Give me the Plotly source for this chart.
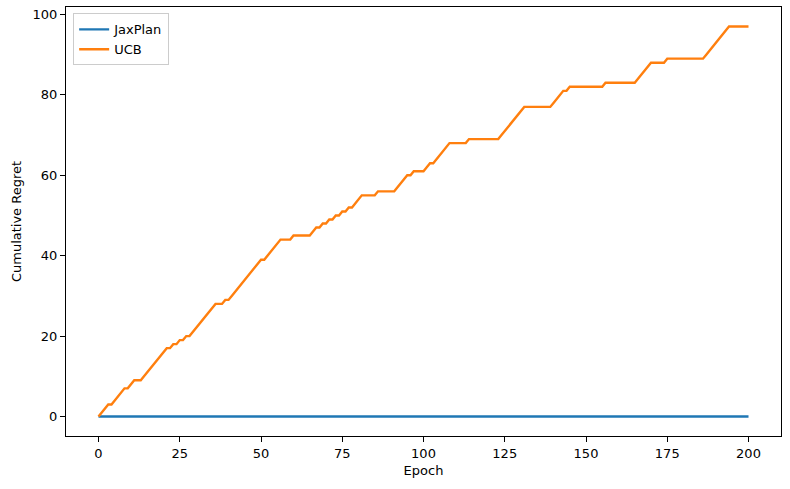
import plotly.graph_objects as go

# Cumulative regret per epoch (epochs 0..200)
ucb_regret = [
    0, 1, 2, 3, 3,
    4, 5, 6, 7, 7,
    8, 9, 9, 9,
    10, 11, 12, 13, 14, 15, 16, 17,
    17, 18, 18, 19, 19, 20, 20,
    21, 22, 23, 24, 25, 26, 27, 28,
    28, 28, 29, 29,
    30, 31, 32, 33, 34, 35, 36, 37, 38, 39,
    39,
    40, 41, 42, 43, 44,
    44, 44, 44,
    45, 45, 45, 45, 45, 45,
    46, 47, 47, 48, 48, 49, 49, 50, 50, 51, 51, 52, 52,
    53, 54, 55,
    55, 55, 55, 55,
    56, 56, 56, 56, 56, 56,
    57, 58, 59, 60,
    60,
    61, 61, 61, 61,
    62, 63, 63,
    64, 65, 66,
    67, 68,
    68, 68, 68, 68, 68,
    69, 69, 69, 69, 69, 69, 69, 69, 69, 69,
    70, 71, 72, 73, 74, 75, 76, 77,
    77, 77, 77, 77, 77, 77, 77, 77,
    78, 79, 80, 81,
    81, 82,
    82, 82, 82, 82, 82, 82, 82, 82, 82, 82,
    83, 83, 83, 83, 83, 83, 83, 83, 83, 83,
    84, 85, 86, 87, 88,
    88, 88, 88, 88,
    89, 89, 89, 89, 89, 89, 89, 89, 89, 89, 89, 89,
    90, 91, 92, 93, 94, 95, 96, 97,
    97, 97, 97, 97, 97, 97,
]
epochs = list(range(len(ucb_regret)))
jaxplan_regret = [0 for _ in epochs]

x_ticks = [0, 25, 50, 75, 100, 125, 150, 175, 200]
y_ticks = [0, 20, 40, 60, 80, 100]

font = "DejaVu Sans"

fig = go.Figure()
fig.add_trace(go.Scatter(x=epochs, y=jaxplan_regret, mode="lines", name="JaxPlan",
                         line=dict(color="#1f77b4", width=2.4)))
fig.add_trace(go.Scatter(x=epochs, y=ucb_regret, mode="lines", name="UCB",
                         line=dict(color="#ff7f0e", width=2.4)))

axis_common = dict(showgrid=False, zeroline=False, showline=True, linecolor="black",
                   linewidth=1, mirror=True, ticks="outside", ticklen=5, tickwidth=1,
                   tickcolor="black", tickfont=dict(family=font, size=13, color="black"))

fig.update_layout(
    width=790, height=489,
    margin=dict(l=66, r=9, t=7, b=53),
    paper_bgcolor="white", plot_bgcolor="white",
    font=dict(family=font, size=13, color="black"),
    xaxis=dict(range=[-10, 210], tickvals=x_ticks,
               title=dict(text="Epoch", font=dict(family=font, size=13), standoff=6),
               **axis_common),
    yaxis=dict(range=[-4.85, 101.85], tickvals=y_ticks,
               title=dict(text="Cumulative Regret", font=dict(family=font, size=13), standoff=8),
               **axis_common),
    legend=dict(x=0.01, y=0.985, xanchor="left", yanchor="top",
                bgcolor="rgba(255,255,255,0.8)", bordercolor="#cccccc", borderwidth=1,
                font=dict(family=font, size=13), tracegroupgap=2),
    showlegend=True,
)

fig.write_html("out.html")
